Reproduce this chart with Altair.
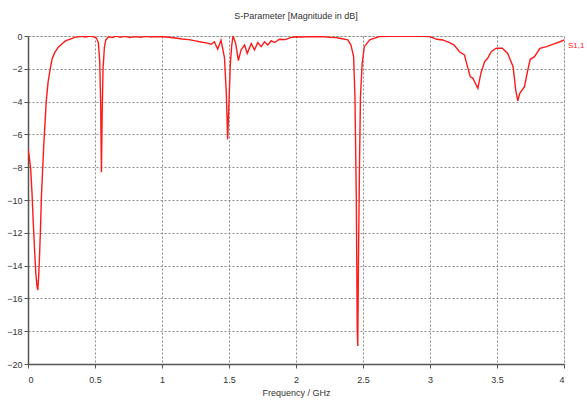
import altair as alt
import pandas as pd

freq_ghz = [0.000, 0.010, 0.020, 0.030, 0.040, 0.050, 0.058, 0.066, 0.073, 0.080,
            0.087, 0.093, 0.100, 0.110, 0.118, 0.125, 0.136, 0.150, 0.166, 0.180,
            0.200, 0.225, 0.250, 0.280, 0.310, 0.350, 0.400, 0.430, 0.460, 0.490,
            0.510, 0.525, 0.535, 0.542, 0.548, 0.553, 0.560, 0.570, 0.580, 0.600,
            0.630, 0.660, 0.690, 0.720, 0.760, 0.800, 0.840, 0.880, 0.920, 0.960,
            1.000, 1.050, 1.100, 1.150, 1.200, 1.250, 1.280, 1.330, 1.367, 1.390,
            1.416, 1.440, 1.466, 1.480, 1.490, 1.500, 1.510, 1.520, 1.530, 1.550,
            1.570, 1.590, 1.616, 1.636, 1.666, 1.690, 1.715, 1.740, 1.765, 1.790,
            1.815, 1.840, 1.877, 1.920, 1.960, 2.000, 2.050, 2.100, 2.150, 2.200,
            2.250, 2.300, 2.325, 2.387, 2.410, 2.430, 2.440, 2.450, 2.457, 2.461,
            2.466, 2.474, 2.481, 2.494, 2.510, 2.550, 2.620, 2.700, 2.770, 2.850,
            2.920, 3.000, 3.050, 3.095, 3.146, 3.180, 3.220, 3.257, 3.280, 3.300,
            3.320, 3.357, 3.380, 3.407, 3.430, 3.457, 3.494, 3.540, 3.580, 3.620,
            3.640, 3.655, 3.670, 3.705, 3.730, 3.748, 3.780, 3.820, 3.870, 3.920,
            3.970, 4.000]

s11_db = [-6.9, -7.4, -8.1, -9.6, -11.5, -13.2, -14.4, -15.2, -15.5, -14.6,
          -13.2, -11.8, -9.8, -8.0, -6.6, -5.6, -4.0, -2.8, -2.0, -1.4,
          -1.0, -0.7, -0.5, -0.3, -0.2, -0.08, -0.02, -0.06, 0.0, -0.05,
          -0.12, -0.4, -1.5, -4.0, -8.3, -5.0, -2.0, -0.7, -0.25, -0.05,
          -0.1, 0.0, -0.08, -0.02, -0.1, -0.03, -0.08, -0.02, -0.06, -0.03,
          -0.05, -0.08, -0.12, -0.18, -0.22, -0.3, -0.35, -0.42, -0.5, -0.35,
          -0.8, -0.25, -1.3, -3.5, -6.3, -4.0, -1.7, -0.6, 0.0, -0.45,
          -1.5, -0.85, -0.55, -1.06, -0.45, -0.85, -0.4, -0.65, -0.35, -0.55,
          -0.29, -0.4, -0.2, -0.22, -0.1, -0.05, -0.06, -0.03, -0.05, -0.04,
          -0.08, -0.1, -0.14, -0.24, -0.55, -1.26, -3.7, -9.8, -17.9, -18.9,
          -13.8, -7.8, -3.7, -1.67, -0.65, -0.24, -0.04, -0.02, 0.0, -0.02,
          0.0, -0.04, -0.2, -0.24, -0.4, -0.55, -0.96, -1.16, -1.87, -2.48,
          -2.58, -3.19, -2.27, -1.57, -1.36, -0.96, -0.75, -0.75, -1.06, -1.87,
          -3.3, -3.96, -3.5, -3.09, -2.07, -1.42, -1.26, -0.75, -0.65, -0.49,
          -0.35, -0.24]

x_ticks = [0, 0.5, 1, 1.5, 2, 2.5, 3, 3.5, 4]
y_ticks = [0, -2, -4, -6, -8, -10, -12, -14, -16, -18, -20]
series_label = "S1,1"

df = pd.DataFrame({"f": freq_ghz, "s": s11_db})

FONT = "Liberation Sans"
RED = "#ff1a1a"

x_scale = alt.Scale(domain=[0, 4], nice=False)
y_scale = alt.Scale(domain=[-20, 0], nice=False)
x_axis = alt.Axis(values=x_ticks, title="Frequency / GHz", format="~g",
                  grid=True, gridDash=[2, 2], gridColor="#8a8a8a",
                  domainColor="#555", domainWidth=1.5, tickColor="#555",
                  tickSize=4, labelPadding=7, titlePadding=4,
                  titleFontWeight="normal",
                  labelFont=FONT, titleFont=FONT, labelFontSize=9,
                  titleFontSize=9, labelColor="#333", titleColor="#333",
                  labelOverlap=False)
y_axis = alt.Axis(values=y_ticks, title=None, format="~g",
                  grid=True, gridDash=[2, 2], gridColor="#8a8a8a",
                  domainColor="#555", domainWidth=1.5, tickColor="#555",
                  tickSize=4, labelPadding=2, labelFont=FONT, labelFontSize=9,
                  labelColor="#333", labelOverlap=False)

line = alt.Chart(df).mark_line(color=RED, strokeWidth=1.4, clip=True).encode(
    x=alt.X("f:Q", scale=x_scale, axis=x_axis),
    y=alt.Y("s:Q", scale=y_scale, axis=y_axis))

label = alt.Chart(pd.DataFrame({"t": [series_label]})).mark_text(
    align="left", baseline="middle", dx=4, color=RED, fontSize=8, font=FONT
).encode(x=alt.X(datum=4, scale=x_scale, axis=x_axis),
         y=alt.Y(datum=-0.6, scale=y_scale, axis=y_axis),
         text="t:N")

chart = (line + label).properties(
    width=536, height=328,
    title=alt.TitleParams("S-Parameter [Magnitude in dB]", fontSize=9,
                          font=FONT, fontWeight="normal", color="#333",
                          offset=11),
    autosize=alt.AutoSizeParams(type="none"),
    padding={"left": 28, "top": 36, "right": 23, "bottom": 37},
).configure_view(stroke="#a0a0a0", strokeWidth=1.5).configure(background="white")

chart.save("out.html", embed_options={"renderer": "svg", "actions": False})
